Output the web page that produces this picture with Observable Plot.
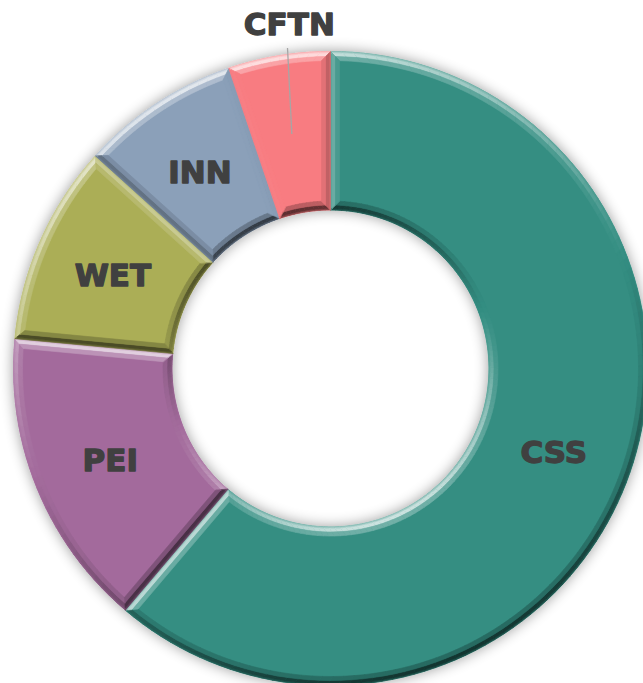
<!DOCTYPE html>
<html><head><meta charset="utf-8">
<script src="https://cdn.jsdelivr.net/npm/d3@7"></script>
<script src="https://cdn.jsdelivr.net/npm/@observablehq/plot@0.6"></script>
<style>html,body{margin:0;padding:0;background:#fff;} #chart svg{display:block;}</style>
</head><body>
<svg width="0" height="0" style="position:absolute">
  <defs>
    <filter id="ringShadow" x="-15%" y="-15%" width="130%" height="130%">
      <feGaussianBlur in="SourceAlpha" stdDeviation="7"/>
      <feComponentTransfer><feFuncA type="linear" slope="0.4"/></feComponentTransfer>
      <feMerge><feMergeNode/><feMergeNode in="SourceGraphic"/></feMerge>
    </filter>
  </defs>
</svg>
<div id="chart"></div>
<script>
// ---- data ----
const categories = ["CSS", "PEI", "WET", "INN", "CFTN"];
const values = [61.2, 15.3, 10.2, 8.1, 5.2];
const palette = ["#348e82", "#a36b9c", "#abae57", "#8ba0b9", "#f87c81"];

// ---- geometry ----
const W = 643, H = 683, CX = 330, CY = 368, R_PX = 317;
const rOuter = 1, rInner = 0.5;
const u = 1 / R_PX; // one pixel in data units
const total = d3.sum(values);
const arcs = d3.pie().sort(null).startAngle(0).endAngle(2 * Math.PI)(values);
const pt = (r, a) => [r * Math.sin(a), r * Math.cos(a)];

const Lraw = [-0.35, -0.94];
const Ln = Math.hypot(...Lraw);
const L = [Lraw[0] / Ln, Lraw[1] / Ln];
function shade(base, n, k) {
  const s = n[0] * L[0] + n[1] * L[1];
  return s >= 0
    ? d3.interpolateRgb(base, "#ffffff")(Math.min(0.8, k * 0.5 * s))
    : d3.interpolateRgb(base, "#000000")(Math.min(0.8, k * 0.42 * -s));
}

const baseRows = [], bevelRows = [];
let pid = 0;
function addPoly(target, pts, color) {
  const id = pid++;
  for (const [x, y] of pts) target.push({id, x, y, color});
}

arcs.forEach((p, i) => {
  const a0 = p.startAngle, a1 = p.endAngle, col = palette[i];
  const n = Math.max(2, Math.ceil((a1 - a0) / (Math.PI / 90)));
  const pts = [];
  for (let j = 0; j <= n; j++) pts.push(pt(rOuter, a0 + (a1 - a0) * j / n));
  for (let j = n; j >= 0; j--) pts.push(pt(rInner, a0 + (a1 - a0) * j / n));
  addPoly(baseRows, pts, col);
});

function band(p, col, d0, d1, k) {
  const a0 = p.startAngle, a1 = p.endAngle;
  const n = Math.max(2, Math.ceil((a1 - a0) / (Math.PI / 90)));
  const Ro0 = rOuter - d0, Ro1 = rOuter - d1, Ri0 = rInner + d0, Ri1 = rInner + d1;
  const os0 = a0 + Math.asin(d0 / Ro0), oe0 = a1 - Math.asin(d0 / Ro0);
  const os1 = a0 + Math.asin(d1 / Ro1), oe1 = a1 - Math.asin(d1 / Ro1);
  const is0 = a0 + Math.asin(d0 / Ri0), ie0 = a1 - Math.asin(d0 / Ri0);
  const is1 = a0 + Math.asin(d1 / Ri1), ie1 = a1 - Math.asin(d1 / Ri1);
  for (let j = 0; j < n; j++) {
    const t0 = j / n, t1 = (j + 1) / n, tm = (t0 + t1) / 2;
    const m = os0 + (oe0 - os0) * tm;
    addPoly(bevelRows, [
      pt(Ro0, os0 + (oe0 - os0) * t0), pt(Ro0, os0 + (oe0 - os0) * t1),
      pt(Ro1, os1 + (oe1 - os1) * t1), pt(Ro1, os1 + (oe1 - os1) * t0)
    ], shade(col, [Math.sin(m), -Math.cos(m)], k));
    const mi = is0 + (ie0 - is0) * tm;
    addPoly(bevelRows, [
      pt(Ri0, is0 + (ie0 - is0) * t0), pt(Ri0, is0 + (ie0 - is0) * t1),
      pt(Ri1, is1 + (ie1 - is1) * t1), pt(Ri1, is1 + (ie1 - is1) * t0)
    ], shade(col, [-Math.sin(mi), Math.cos(mi)], k));
  }
  addPoly(bevelRows, [pt(Ri0, is0), pt(Ro0, os0), pt(Ro1, os1), pt(Ri1, is1)],
    shade(col, [-Math.cos(a0), -Math.sin(a0)], k));
  addPoly(bevelRows, [pt(Ri0, ie0), pt(Ro0, oe0), pt(Ro1, oe1), pt(Ri1, ie1)],
    shade(col, [Math.cos(a1), Math.sin(a1)], k));
}
arcs.forEach((p, i) => {
  band(p, palette[i], 0, 1.5 * u, 1.1);
  band(p, palette[i], 1.5 * u, 5 * u, 1.5);
  band(p, palette[i], 5 * u, 9 * u, 0.6);
});

// labels
const rMid = (rOuter + rInner) / 2;
const labels = [], leaders = [];
arcs.forEach((p, i) => {
  const mid = (p.startAngle + p.endAngle) / 2;
  if (values[i] / total < 0.06) {
    const [x, y] = pt(1.1, mid + 0.045);
    labels.push({x, y, name: categories[i]});
    const [x1, y1] = pt(rMid, mid);
    const [x2, y2] = pt(1.02, mid + 0.03);
    leaders.push({x1, y1, x2, y2});
  } else {
    const [x, y] = pt(rMid, mid);
    labels.push({x, y, name: categories[i]});
  }
});

const chart = Plot.plot({
  width: W, height: H,
  margin: 0,
  x: {domain: [-CX / R_PX, (W - CX) / R_PX], axis: null},
  y: {domain: [(CY - H) / R_PX, CY / R_PX], axis: null},
  color: {type: "identity"},
  marks: [
    Plot.line(baseRows, {x: "x", y: "y", z: "id", fill: "color", stroke: "color", strokeWidth: 0.6, curve: "linear-closed"}),
    Plot.line(bevelRows, {x: "x", y: "y", z: "id", fill: "color", stroke: "color", strokeWidth: 0.6, curve: "linear-closed"}),
    Plot.link(leaders, {x1: "x1", y1: "y1", x2: "x2", y2: "y2", stroke: "#a6a6a6", strokeWidth: 1.3}),
    Plot.text(labels, {x: "x", y: "y", text: "name", fontSize: 31, fontWeight: "bold",
      fontFamily: "DejaVu Sans", fill: "#404040", stroke: "#404040", strokeWidth: 1.3, dy: 3})
  ]
});
const firstLine = chart.querySelector('g[aria-label="line"]');
if (firstLine) firstLine.setAttribute("filter", "url(#ringShadow)");
document.getElementById("chart").append(chart);
</script>
</body></html>
